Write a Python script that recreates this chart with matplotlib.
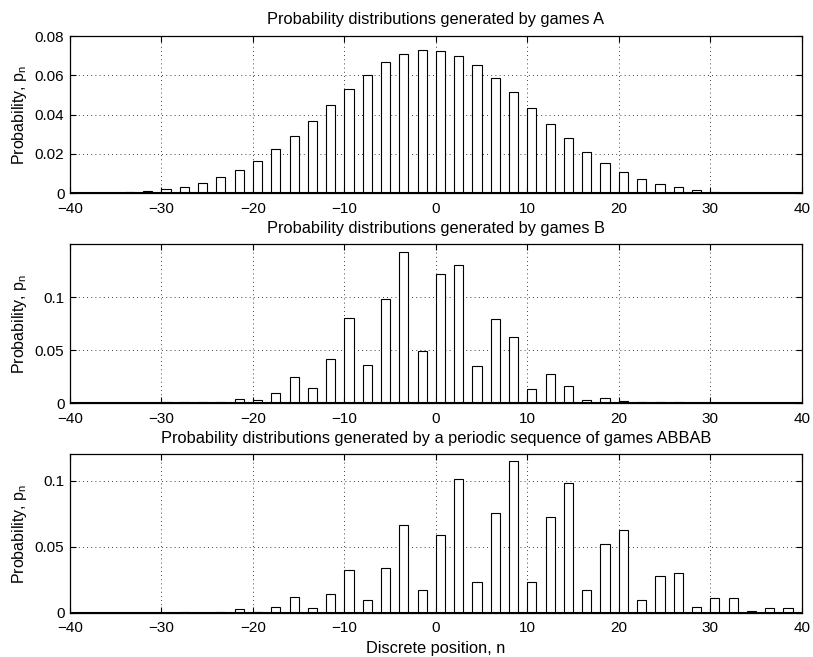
import numpy as np
from matplotlib import pyplot as plt

plt.rcParams['font.family'] = ['Liberation Sans', 'DejaVu Sans']
plt.rcParams['mathtext.fontset'] = 'custom'
plt.rcParams['mathtext.rm'] = 'Liberation Sans'

# left edges of the bars (discrete positions)
positions = np.arange(-38, 39, 2)

games_a = [0.0002, 0.0003, 0.0005, 0.0012, 0.0020, 0.0034, 0.0054, 0.0081,
           0.0119, 0.0166, 0.0224, 0.0293, 0.0369, 0.0449, 0.0529, 0.0600,
           0.0666, 0.0707, 0.0729, 0.0725, 0.0698, 0.0651, 0.0588, 0.0514,
           0.0432, 0.0354, 0.0280, 0.0212, 0.0156, 0.0110, 0.0075, 0.0049,
           0.0031, 0.0019, 0.0008, 0.0003, 0.0002, 0.0001, 0.00005]

games_b = [0.0001, 0.0002, 0.0003, 0.0005, 0.0008, 0.0008, 0.0008, 0.0016,
           0.0041, 0.0032, 0.0098, 0.0247, 0.0142, 0.0418, 0.0807, 0.0364,
           0.0987, 0.1424, 0.0497, 0.1222, 0.1304, 0.0354, 0.0791, 0.0630,
           0.0136, 0.0275, 0.0161, 0.0028, 0.0051, 0.0025, 0.0010, 0.0010,
           0.0008, 0.0, 0.0, 0.0, 0.0, 0.0, 0.0]

games_abbab = [0.0, 0.0, 0.0, 0.0, 0.0, 0.0005, 0.0, 0.0008, 0.0030,
               0.0008, 0.0045, 0.0116, 0.0038, 0.0144, 0.0321, 0.0096, 0.0336,
               0.0662, 0.0174, 0.0586, 0.1010, 0.0232, 0.0758, 0.1149, 0.0232,
               0.0727, 0.0980, 0.0172, 0.0520, 0.0626, 0.0096, 0.0280, 0.0303,
               0.0040, 0.0111, 0.0109, 0.0013, 0.0033, 0.0033]

titles = ['Probability distributions generated by games A',
          'Probability distributions generated by games B',
          'Probability distributions generated by a periodic sequence of games ABBAB']
ylims = [0.08, 0.15, 0.12]
yticks = [[0, 0.02, 0.04, 0.06, 0.08], [0, 0.05, 0.1], [0, 0.05, 0.1]]
ylabels = [['0', '0.02', '0.04', '0.06', '0.08'], ['0', '0.05', '0.1'], ['0', '0.05', '0.1']]
xticks = [-40, -30, -20, -10, 0, 10, 20, 30, 40]

fig = plt.figure(figsize=(8.13, 6.57), dpi=100)
boxes = [[0.0861, 0.7058, 0.9000, 0.2394],
         [0.0861, 0.3861, 0.9000, 0.2420],
         [0.0861, 0.0674, 0.9000, 0.2411]]

for i, data in enumerate([games_a, games_b, games_abbab]):
    ax = fig.add_axes(boxes[i])
    ax.bar(positions, data, width=1, align='edge', facecolor='white',
           edgecolor='black', linewidth=0.8, zorder=3)
    ax.set_xlim(-40, 40)
    ax.set_ylim(0, ylims[i])
    ax.set_xticks(xticks)
    ax.set_xticklabels([str(t).replace('-', '\u2212') for t in xticks])
    ax.set_yticks(yticks[i])
    ax.set_yticklabels(ylabels[i])
    ax.grid(True, color='black', linestyle=(0, (1, 4)), linewidth=0.6)
    ax.tick_params(direction='in', top=True, right=True, length=4,
                   labelsize=11, width=0.8)
    ax.tick_params(axis='x', pad=6)
    ax.tick_params(axis='y', pad=4)
    for s in ax.spines.values():
        s.set_linewidth(0.9)
    ax.set_title(titles[i], fontsize=11.8, pad=8.5)
    ax.set_ylabel('Probability, p$_\\mathregular{n}$', fontsize=11.5, labelpad=4)
    ax.axhline(0, color='black', linewidth=1.5, zorder=4)

ax.set_xlabel('Discrete position, n', fontsize=11.8, labelpad=4)

fig.savefig('out.png', dpi=100, facecolor='white')
